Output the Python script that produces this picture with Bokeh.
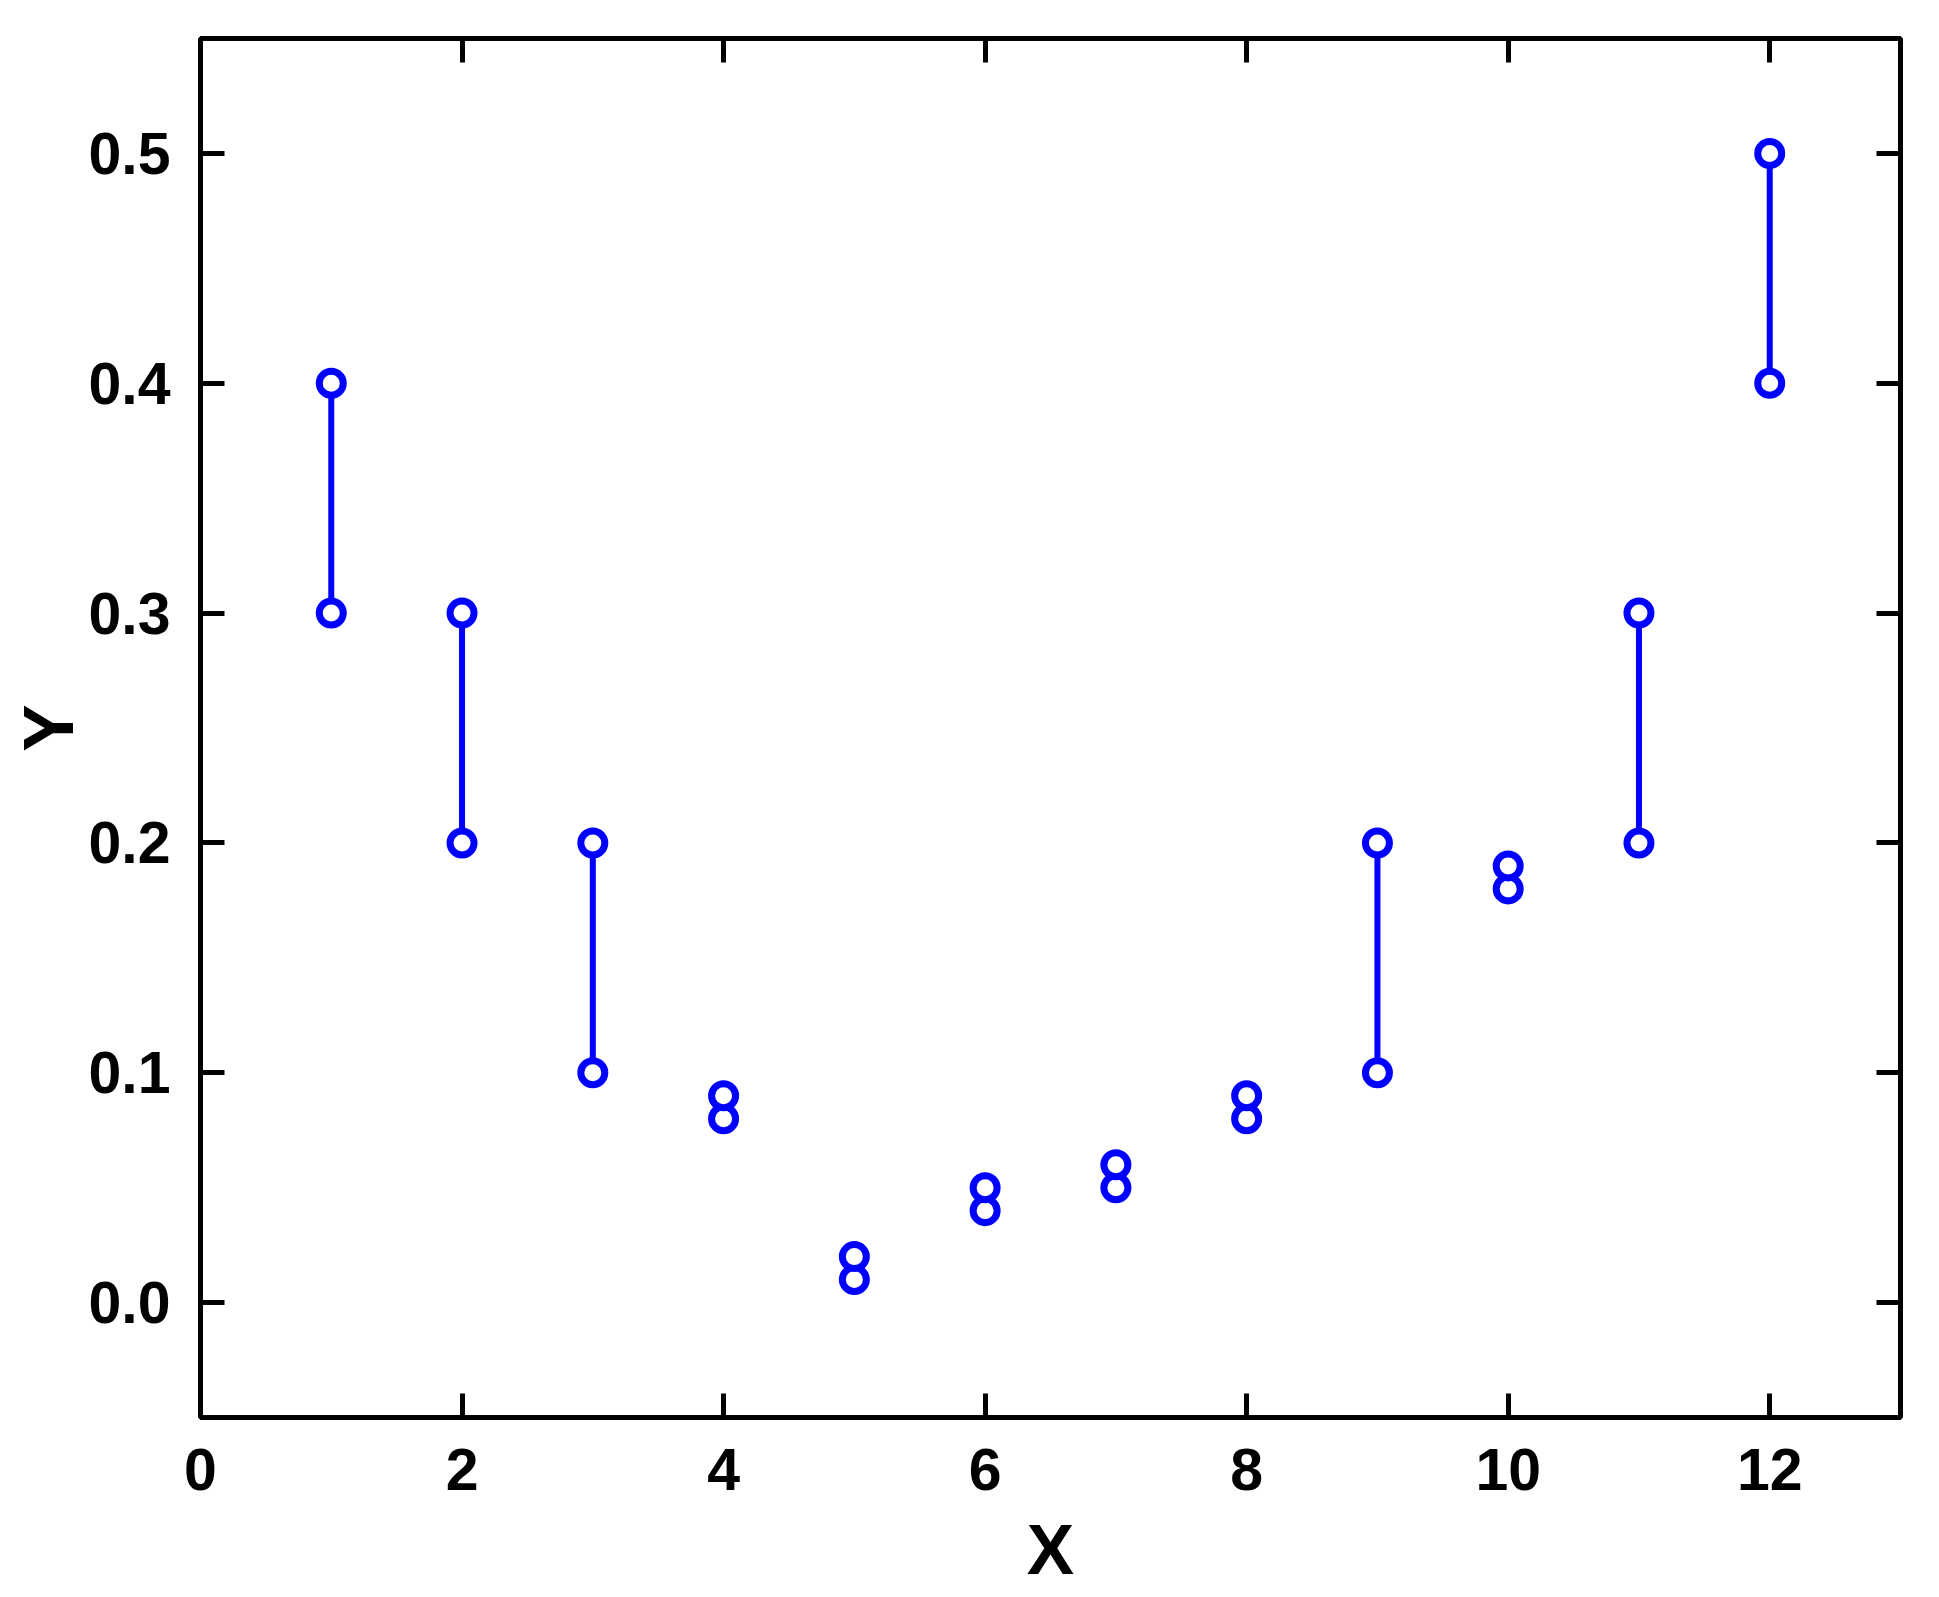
from bokeh.plotting import figure
from bokeh.models import LinearAxis, FixedTicker, PrintfTickFormatter, Range1d
from bokeh.embed import file_html
from bokeh.resources import INLINE

# Data
x_vals = [1, 2, 3, 4, 5, 6, 7, 8, 9, 10, 11, 12]
y_low = [0.30, 0.20, 0.10, 0.08, 0.01, 0.04, 0.05, 0.08, 0.10, 0.18, 0.20, 0.40]
y_high = [0.40, 0.30, 0.20, 0.09, 0.02, 0.05, 0.06, 0.09, 0.20, 0.19, 0.30, 0.50]
x_ticks = [0, 2, 4, 6, 8, 10, 12]
y_ticks = [0.0, 0.1, 0.2, 0.3, 0.4, 0.5]

FONT = "Liberation Sans"
BLUE = "#0000FF"

p = figure(
    output_backend="svg", toolbar_location=None,
    frame_width=1700, frame_height=1379,
    x_range=Range1d(0, 13), y_range=Range1d(-0.05, 0.55),
    x_axis_location=None, y_axis_location=None,
    min_border_left=200, min_border_top=38, min_border_right=29, min_border_bottom=0,
)
p.grid.visible = False
p.outline_line_color = "black"
p.outline_line_width = 5
p.background_fill_color = "white"
p.border_fill_color = "white"


def make_axis(ticks, show_labels, label=None, standoff=30, title_standoff=10):
    ax = LinearAxis(ticker=FixedTicker(ticks=ticks))
    ax.axis_line_color = None
    ax.major_tick_in = 24
    ax.major_tick_out = 0
    ax.major_tick_line_width = 5
    ax.major_tick_line_color = "black"
    ax.minor_tick_line_color = None
    if show_labels:
        ax.major_label_text_font = FONT
        ax.major_label_text_font_style = "bold"
        ax.major_label_text_font_size = "59px"
        ax.major_label_text_color = "black"
        ax.major_label_standoff = standoff
    else:
        ax.major_label_text_font_size = "0px"
        ax.major_label_standoff = 0
        ax.major_label_text_color = None
    if label:
        ax.axis_label = label
        ax.axis_label_text_font = FONT
        ax.axis_label_text_font_style = "bold"
        ax.axis_label_text_font_size = "71px"
        ax.axis_label_text_color = "black"
        ax.axis_label_standoff = title_standoff
    return ax


bx = make_axis(x_ticks, True, "X", standoff=31, title_standoff=17)
lx = make_axis(y_ticks, True, "Y", standoff=30, title_standoff=-3)
lx.formatter = PrintfTickFormatter(format="%.1f")
tx = make_axis(x_ticks, False)
rx = make_axis(y_ticks, False)
p.add_layout(bx, "below")
p.add_layout(lx, "left")
p.add_layout(tx, "above")
p.add_layout(rx, "right")

p.segment(x0=x_vals, y0=y_low, x1=x_vals, y1=y_high, line_color=BLUE, line_width=6)
p.scatter(x=x_vals, y=y_low, marker="circle", size=24, line_width=7,
          line_color=BLUE, fill_color="white")
p.scatter(x=x_vals, y=y_high, marker="circle", size=24, line_width=7,
          line_color=BLUE, fill_color="white")

open("out.html", "w").write(file_html(p, INLINE))
